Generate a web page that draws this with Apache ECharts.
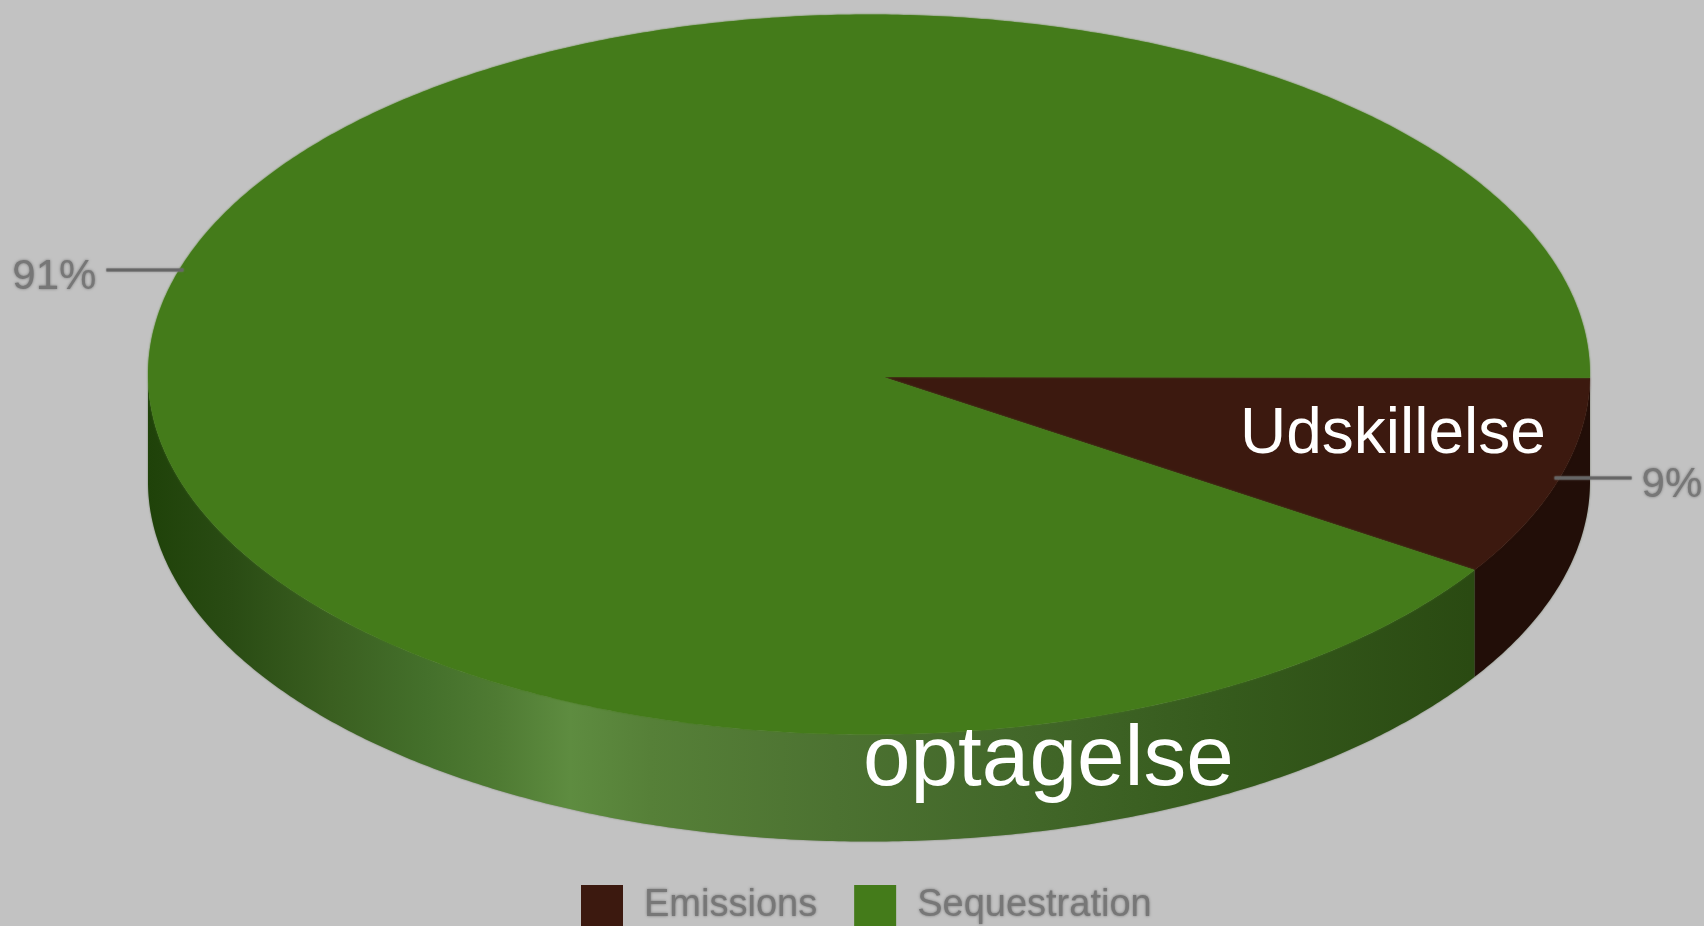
<!DOCTYPE html>
<html>
<head>
<meta charset="utf-8">
<style>html,body{margin:0;padding:0;background:#c2c2c2;overflow:hidden}#c{width:1704px;height:926px}</style>
<script src="https://cdn.jsdelivr.net/npm/echarts@6/dist/echarts.min.js"></script>
</head>
<body>
<div id="c"></div>
<script>
const categories = ['Emissions', 'Sequestration'];
const shares = [9, 91];
const overlayLabels = ['Udskillelse', 'optagelse'];

const chart = echarts.init(document.getElementById('c'), null, {renderer: 'canvas'});
const FONT = '"Liberation Sans", Arial, sans-serif';
const C = {x: 869, y: 374.5, rx: 721, ry: 360, depth: 107, apexX: 883, apexY: 377, startDeg: 0.5};
const TOP = ['#3c190f', '#447b1a'];
const total = shares.reduce((a, b) => a + b, 0);
const starts = [];
shares.reduce((acc, v, i) => { starts[i] = acc; return acc + v; }, 0);

const toRad = v => v / total * Math.PI * 2 + C.startDeg * Math.PI / 180;
const pt = (a, dy) => [C.x + C.rx * Math.cos(a), C.y + C.ry * Math.sin(a) + (dy || 0)];
function arc(a0, a1, dy) {
  const n = Math.max(2, Math.ceil(Math.abs(a1 - a0) * 120));
  const out = [];
  for (let i = 0; i <= n; i++) out.push(pt(a0 + (a1 - a0) * i / n, dy));
  return out;
}
const greenWall = new echarts.graphic.LinearGradient(148, 0, 1471, 0, [
  {offset: 0, color: '#1f4209'},
  {offset: 0.065, color: '#2a4c14'},
  {offset: 0.138, color: '#3a5f20'},
  {offset: 0.21, color: '#44702b'},
  {offset: 0.265, color: '#4f7b33'},
  {offset: 0.319, color: '#5e8c40'},
  {offset: 0.38, color: '#568038'},
  {offset: 0.52, color: '#4c7231'},
  {offset: 0.65, color: '#43682a'},
  {offset: 0.82, color: '#355a1c'},
  {offset: 1, color: '#2a4a12'}
], true);

function renderSlice(params) {
  const i = params.seriesIndex;
  const a0 = toRad(starts[i]);
  const a1 = toRad(starts[i] + shares[i]);
  const children = [];
  const wStart = i === 0 ? 0 : a0;
  const wEnd = Math.min(a1, Math.PI);
  if (a0 < Math.PI) {
    const up = arc(wStart, wEnd, 0);
    const down = arc(wEnd, wStart, C.depth);
    children.push({
      type: 'polygon',
      shape: {points: up.concat(down)},
      style: {fill: i === 0 ? '#220e08' : greenWall, shadowBlur: 2, shadowColor: 'rgba(40,60,20,0.5)'}
    });
  }
  children.push({
    type: 'polygon',
    shape: {points: [[C.apexX, C.apexY]].concat(arc(a0, a1, 0))},
    style: {fill: TOP[i], shadowBlur: 2, shadowColor: TOP[i]}
  });
  return {type: 'group', children};
}
function renderLabel(params) {
  const i = params.dataIndex;
  const mid = toRad(starts[i] + shares[i] / 2);
  const p = pt(mid, 0);
  const dir = Math.cos(mid) >= 0 ? 1 : -1;
  const y = p[1] + (dir > 0 ? 0 : -1);
  const x0 = p[0] + dir * -5;
  const x1 = x0 + dir * 77;
  return {type: 'group', children: [
    {type: 'line', shape: {x1: x0, y1: y, x2: x1, y2: y},
      style: {stroke: '#666', lineWidth: 3, shadowBlur: 2, shadowColor: '#777'}},
    {type: 'text', style: {
      text: shares[i] + '%', x: x1 + dir * 10, y: y + 7,
      font: '42px ' + FONT, fill: '#777', align: dir > 0 ? 'left' : 'right', verticalAlign: 'middle',
      textShadowBlur: 3, textShadowColor: '#777'
    }}
  ]};
}

const series = categories.map((name, i) => ({
  type: 'custom', name, coordinateSystem: 'none', silent: true,
  itemStyle: {color: TOP[i]}, data: [shares[i]], renderItem: renderSlice, z: 2 + i
}));
series.push({
  type: 'custom', name: 'labels', coordinateSystem: 'none', silent: true,
  data: shares.slice(), renderItem: renderLabel, z: 5
});

chart.setOption({
  animation: false,
  backgroundColor: '#c2c2c2',
  legend: {
    data: categories, left: 576, top: 880, padding: 5, itemWidth: 42, itemHeight: 42, itemGap: 37, icon: 'rect',
    selectedMode: false,
    textStyle: {fontFamily: FONT, fontSize: 38, color: '#777', padding: [0, 0, 9, 16],
      textShadowBlur: 3, textShadowColor: '#777'}
  },
  series,
  graphic: [
    {type: 'text', z: 10, left: 1240, top: 403, style: {text: overlayLabels[0], font: '64px ' + FONT, fill: '#fff'}},
    {type: 'text', z: 10, left: 863, top: 718, style: {text: overlayLabels[1], font: '85.5px ' + FONT, fill: '#fff'}}
  ]
});
</script>
</body>
</html>
